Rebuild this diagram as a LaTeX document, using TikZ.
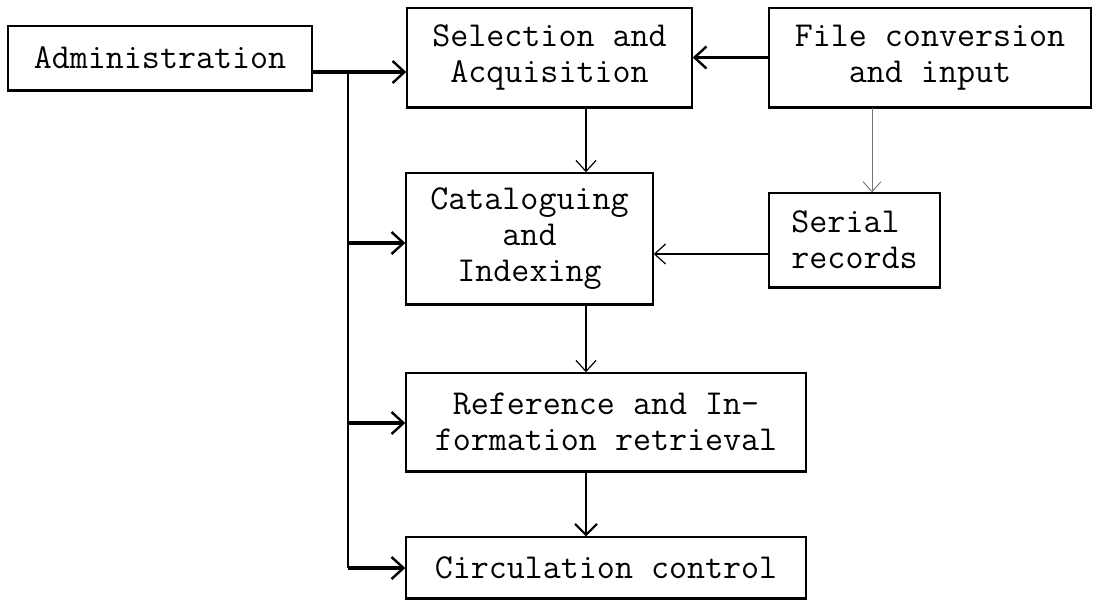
\documentclass[tikz,border=0pt]{standalone}
\usetikzlibrary{arrows.meta}
\begin{document}
\begin{tikzpicture}[x=1pt,y=-1pt,
  box/.style={draw, line width=1.4pt, inner sep=0pt, anchor=center,
    font=\ttfamily\fontsize{35}{36}\selectfont, align=center},
  boldline/.style={line width=3.2pt, -{Straight Barb[length=12pt,width=22pt,line width=2.4pt]}},
  thinline/.style={line width=1.2pt, -{Straight Barb[length=11pt,width=20pt,line width=1.2pt]}},
  faintline/.style={line width=0.9pt, black!55, -{Straight Barb[length=10pt,width=18pt,line width=0.9pt]}}]
\useasboundingbox (0,0) rectangle (1099,600);
\node[box, minimum width=304pt, minimum height=64pt] (admin) at (160,58) {Administration};
\node[box, minimum width=285pt, minimum height=99pt] (sel) at (549.5,57.5) {Selection and\\Acquisition};
\node[box, minimum width=322pt, minimum height=99pt] (file) at (930,57.5) {File conversion\\and input};
\node[box, minimum width=247pt, minimum height=131pt] (cat) at (529.5,238.5) {Cataloguing\\and\\Indexing};
\node[box, minimum width=171pt, minimum height=94pt, align=left] (serial) at (854.5,240) {Serial\\records};
\node[box, minimum width=400pt, minimum height=98pt] (ref) at (606,422) {Reference and In-\\formation retrieval};
\node[box, minimum width=400pt, minimum height=61pt] (circ) at (606,567.5) {Circulation control};
\foreach \n in {admin,sel,file,cat,serial,ref,circ}
  \draw[line width=3pt] (\n.south west) -- (\n.south east);
% bus coordinates
\coordinate (b0) at (348,72);
\coordinate (b1) at (348,243);
\coordinate (b2) at (348,423);
\coordinate (b3) at (348,568);
\coordinate (vx) at (586,0);
\coordinate (fx) at (872,0);
\coordinate (sy) at (0,254);
\draw[line width=3.2pt] (admin.east|-b0) -- (b0);
\draw[boldline] (b0) -- (sel.west|-b0);
\draw[line width=2pt] (b0) -- (b3);
\draw[boldline] (b1) -- (cat.west|-b1);
\draw[boldline] (b2) -- (ref.west|-b2);
\draw[boldline] (b3) -- (circ.west|-b3);
\draw[boldline] (file.west) -- (sel.east);
\draw[thinline] (sel.south-|vx) -- (cat.north-|vx);
\draw[faintline] (file.south-|fx) -- (serial.north-|fx);
\draw[thinline] (serial.west|-sy) -- (cat.east|-sy);
\draw[thinline] (cat.south-|vx) -- (ref.north-|vx);
\draw[line width=2pt, -{Straight Barb[length=11pt,width=22pt,line width=2pt]}] (ref.south-|vx) -- (circ.north-|vx);
\end{tikzpicture}
\end{document}
